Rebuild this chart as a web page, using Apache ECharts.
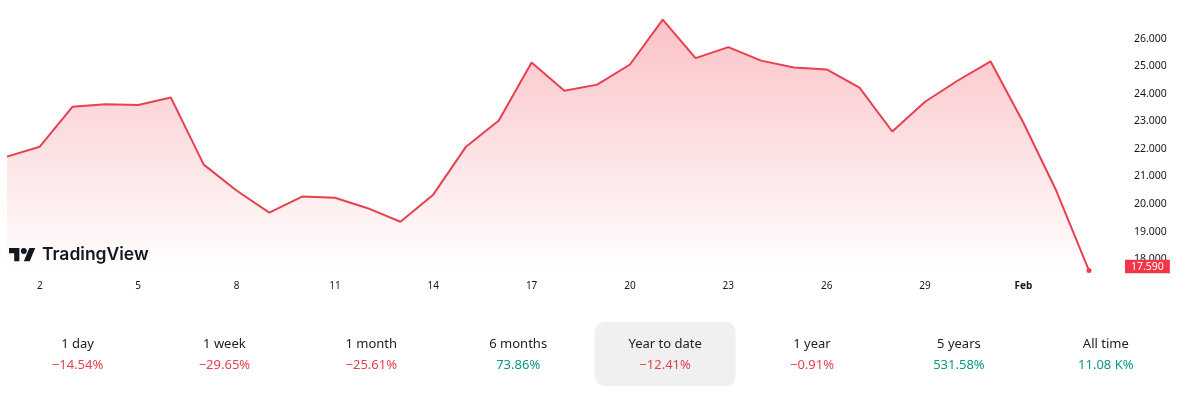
<!DOCTYPE html>
<html>
<head>
<meta charset="utf-8">
<style>html,body{margin:0;padding:0;background:#fff}#c{width:1200px;height:394px}</style>
<script src="https://cdn.jsdelivr.net/npm/echarts@6/dist/echarts.min.js"></script>
</head>
<body>
<div id="c"></div>
<script>
const categories = ['1','2','3','4','5','6','7','8','9','10','11','12','13','14','15','16','17','18','19','20','21','22','23','24','25','26','27','28','29','30','31','Feb','2','3'];
const prices = [21.72,22.08,23.53,23.62,23.59,23.86,21.43,20.49,19.69,20.27,20.23,19.85,19.36,20.34,22.08,23.03,25.13,24.11,24.33,25.06,26.69,25.29,25.69,25.20,24.95,24.88,24.22,22.63,23.71,24.48,25.17,22.95,20.49,17.59];
const yTicks = [18,19,20,21,22,23,24,25,26];
const periods = ['1 day','1 week','1 month','6 months','Year to date','1 year','5 years','All time'];
const changes = ['−14.54%','−29.65%','−25.61%','73.86%','−12.41%','−0.91%','531.58%','11.08 K%'];
const selectedPeriod = 'Year to date';

const FONT = '"Noto Sans", sans-serif';
const RED = '#e5414f';
const TAG = '#f23645';
const GREEN = '#089981';
const TEXT = '#131722';

const tiles = [];
periods.forEach((p, i) => {
  const cx = 77.5 + i * 146.9;
  if (p === selectedPeriod) {
    tiles.push({type:'rect', shape:{x:cx-70.5, y:322, width:141, height:64, r:10}, style:{fill:'#f0f0f0'}, z:1});
  }
  tiles.push({type:'text', x:cx, y:344.5, style:{text:p, fill:'#222', font:'13px '+FONT, align:'center', verticalAlign:'middle'}, z:2});
  tiles.push({type:'text', x:cx, y:365, style:{text:changes[i], fill:changes[i][0]==='−'?RED:GREEN, font:'13px '+FONT, align:'center', verticalAlign:'middle'}, z:2});
});

const LS = 0.74, LX = 9, LY = 245;
const lg = (pts) => pts.map(p => [LX + p[0]*LS, LY + p[1]*LS]);

const chart = echarts.init(document.getElementById('c'), null, {renderer:'canvas'});
chart.setOption({
  animation:false,
  backgroundColor:'#fff',
  grid:{left:7, right:111, top:11, height:262},
  xAxis:{
    type:'category', boundaryGap:false, data:categories,
    axisLine:{show:false}, axisTick:{show:false}, splitLine:{show:false},
    axisLabel:{
      interval:(i)=>i%3===1, margin:8, color:TEXT, fontFamily:FONT, fontSize:10,
      formatter:(v)=> v==='Feb' ? '{b|Feb}' : v,
      rich:{b:{fontWeight:'bold', fontFamily:FONT, fontSize:10, color:TEXT}}
    }
  },
  yAxis:{
    type:'value', position:'right', min:17.5, max:27,
    axisLine:{show:false}, axisTick:{show:false}, splitLine:{show:false},
    axisLabel:{
      customValues:yTicks, margin:45, color:TEXT, fontFamily:FONT, fontSize:10.5,
      formatter:(v)=>v.toFixed(3)
    }
  },
  series:[{
    type:'line', data:prices, symbol:'none', showSymbol:false, smooth:false,
    lineStyle:{color:RED, width:2},
    itemStyle:{color:RED},
    areaStyle:{opacity:1, color:{type:'linear',x:0,y:0,x2:0,y2:1,colorStops:[
      {offset:0,color:'rgba(242,54,69,0.30)'},{offset:1,color:'rgba(242,54,69,0)'}]}},
    endLabel:{
      show:true, formatter:()=>prices[prices.length-1].toFixed(3),
      color:'#fff', backgroundColor:TAG, fontFamily:FONT, fontSize:10.5,
      padding:[1.5,6,1,6], distance:36, offset:[0,-4]
    },
    markPoint:{
      symbol:'circle', symbolSize:5, silent:true,
      itemStyle:{color:RED}, label:{show:false},
      data:[{coord:[categories.length-1, prices[prices.length-1]]}]
    }
  }],
  graphic:[
    {type:'polygon', z:5, shape:{points:lg([[14,22],[7,22],[7,11],[0,11],[0,4],[14,4]])}, style:{fill:TEXT}},
    {type:'polygon', z:5, shape:{points:lg([[28,22],[20,22],[27.5,4],[35.5,4]])}, style:{fill:TEXT}},
    {type:'circle', z:5, shape:{cx:LX+20*LS, cy:LY+8*LS, r:4*LS}, style:{fill:TEXT}},
    {type:'text', x:42, y:255, z:5, style:{text:'TradingView', fill:TEXT, font:'600 17.5px Inter, '+FONT, align:'left', verticalAlign:'middle'}},
    ...tiles
  ]
});
</script>
</body>
</html>
